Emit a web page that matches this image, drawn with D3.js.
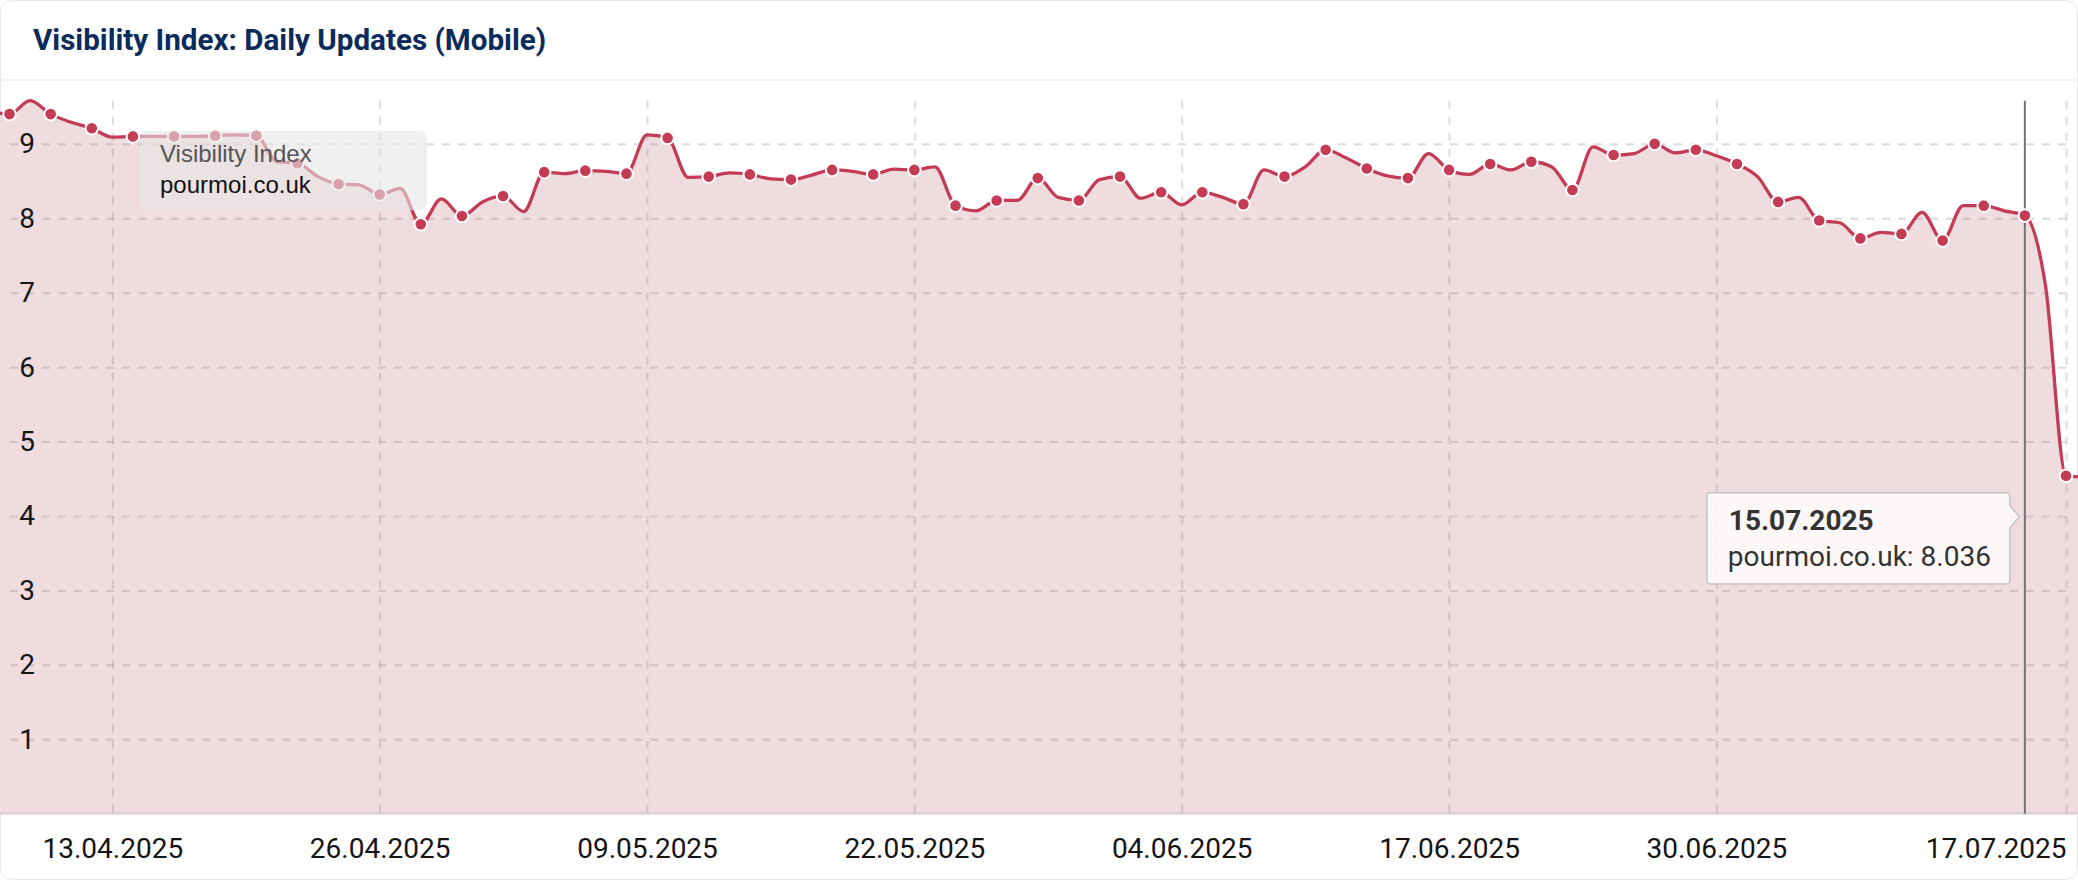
<!DOCTYPE html>
<html>
<head>
<meta charset="utf-8">
<script src="https://cdn.jsdelivr.net/npm/d3@7"></script>
<style>
  html, body { margin: 0; padding: 0; background: #ffffff; }
  svg { display: block; }
</style>
</head>
<body>
<svg id="chart" width="2078" height="880"></svg>
<script>
// ---------------- data ----------------
const chartTitle = "Visibility Index: Daily Updates (Mobile)";
const seriesName = "pourmoi.co.uk";
const legendTitle = "Visibility Index";
// first daily value belongs to 07.04.2025, one value per day up to 18.07.2025
const firstDay = "2025-04-07";
const visibility = [
  9.44, 9.40, 9.58, 9.40, 9.29, 9.21, 9.09, 9.10, 9.10, 9.10,
  9.10, 9.11, 9.12, 9.11, 8.76, 8.74, 8.56, 8.46, 8.45, 8.32,
  8.40, 7.92, 8.26, 8.03, 8.22, 8.30, 8.09, 8.62, 8.60, 8.64,
  8.63, 8.60, 9.12, 9.08, 8.55, 8.56, 8.61, 8.59, 8.53, 8.52,
  8.58, 8.65, 8.63, 8.59, 8.66, 8.65, 8.69, 8.17, 8.10, 8.24,
  8.24, 8.54, 8.28, 8.24, 8.52, 8.56, 8.27, 8.35, 8.18, 8.35,
  8.28, 8.19, 8.65, 8.56, 8.69, 8.92, 8.81, 8.67, 8.57, 8.54,
  8.87, 8.65, 8.59, 8.73, 8.65, 8.76, 8.69, 8.38, 8.96, 8.85,
  8.87, 9.00, 8.88, 8.92, 8.84, 8.73, 8.56, 8.22, 8.28, 7.97,
  7.94, 7.73, 7.81, 7.79, 8.08, 7.70, 8.17, 8.17, 8.10, 8.036,
  7.10, 4.54, 4.52
];
const xTickLabels = ["13.04.2025", "26.04.2025", "09.05.2025", "22.05.2025",
                     "04.06.2025", "17.06.2025", "30.06.2025", "17.07.2025"];
const yTickValues = [1, 2, 3, 4, 5, 6, 7, 8, 9];
const xDomainLabels = ["08.04.2025", "17.07.2025"];
const yMax = 9.58;
const markerEvery = 2;            // a marker on every second day
const hoverDate = "15.07.2025";

// ---------------- setup ----------------
const W = 2078, H = 880;
const parseDMY = d3.timeParse("%d.%m.%Y");
const fmtDMY = d3.timeFormat("%d.%m.%Y");
const start = d3.timeParse("%Y-%m-%d")(firstDay);
const data = visibility.map((v, i) => ({ date: d3.timeDay.offset(start, i), value: v }));

const plot = { left: 9.5, right: 2066, top: 100.7, bottom: 813.7 };

const x = d3.scaleTime()
  .domain(xDomainLabels.map(parseDMY))
  .range([plot.left, plot.right]);
const y = d3.scaleLinear()
  .domain([0, yMax])
  .range([plot.bottom, plot.top]);

const svg = d3.select("#chart");
const FONT = "Roboto, 'Noto Sans', sans-serif";

svg.append("defs").append("clipPath").attr("id", "cardClip")
  .append("rect").attr("x", 0).attr("y", 0).attr("width", W).attr("height", H).attr("rx", 12);

// card
svg.append("rect")
  .attr("x", 0.5).attr("y", 0.5).attr("width", W - 1).attr("height", H - 1)
  .attr("rx", 12).attr("fill", "#ffffff").attr("stroke", "#e9e9e9");

// header
svg.append("text")
  .attr("x", 33).attr("y", 49.5)
  .attr("font-family", FONT).attr("font-weight", 700).attr("font-size", 29.6)
  .attr("fill", "#0b2b5c")
  .text(chartTitle);
svg.append("line")
  .attr("x1", 0).attr("x2", W).attr("y1", 80).attr("y2", 80)
  .attr("stroke", "#f1f1f1").attr("stroke-width", 2);

const g = svg.append("g").attr("clip-path", "url(#cardClip)");

// area
const area = d3.area()
  .x(d => x(d.date)).y0(y(0)).y1(d => y(d.value))
  .curve(d3.curveMonotoneX);
g.append("path").datum(data)
  .attr("d", area).attr("fill", "#efdcdf");

// grid
const gridColor = "rgba(140,140,140,0.3)";
const yGrid = g.append("g")
  .attr("transform", `translate(${plot.left + 0.5},0)`)
  .call(d3.axisRight(y).tickValues(yTickValues).tickSize(plot.right - plot.left).tickFormat(""));
yGrid.select(".domain").remove();
yGrid.selectAll("line").attr("stroke", gridColor).attr("stroke-width", 2).attr("stroke-dasharray", "8,8");

const xTickDates = xTickLabels.map(parseDMY);
const xGrid = g.append("g")
  .attr("transform", `translate(0,${plot.top})`)
  .call(d3.axisBottom(x).tickValues(xTickDates).tickSize(plot.bottom - plot.top).tickFormat(""));
xGrid.select(".domain").remove();
xGrid.selectAll("line").attr("stroke", gridColor).attr("stroke-width", 2).attr("stroke-dasharray", "8,8");

// baseline
g.append("line")
  .attr("x1", 0).attr("x2", W).attr("y1", y(0)).attr("y2", y(0))
  .attr("stroke", "rgba(150,130,135,0.25)").attr("stroke-width", 2);

// hover line
const hoverD = parseDMY(hoverDate);
const hoverPoint = data.find(d => +d.date === +hoverD);
g.append("line")
  .attr("x1", x(hoverD)).attr("x2", x(hoverD))
  .attr("y1", plot.top).attr("y2", plot.bottom)
  .attr("stroke", "#757575").attr("stroke-width", 2);

// line
const line = d3.line()
  .x(d => x(d.date)).y(d => y(d.value))
  .curve(d3.curveMonotoneX);
g.append("path").datum(data)
  .attr("d", line).attr("fill", "none")
  .attr("stroke", "#c43b56").attr("stroke-width", 3.3);

// markers
const x0 = x.domain()[0], x1 = x.domain()[1];
const markers = data.filter(d => d.date >= x0 && d.date <= x1 &&
  d3.timeDay.count(x0, d.date) % markerEvery === 0);
g.selectAll("circle.pt").data(markers).join("circle")
  .attr("class", "pt")
  .attr("cx", d => x(d.date)).attr("cy", d => y(d.value))
  .attr("r", 6.3)
  .attr("fill", "#c43b56").attr("stroke", "#ffffff").attr("stroke-width", 2);

// y tick labels
const yAxis = svg.append("g")
  .attr("transform", "translate(35,0)")
  .call(d3.axisLeft(y).tickValues(yTickValues).tickSize(0).tickPadding(0).tickFormat(d3.format("d")));
yAxis.select(".domain").remove();
yAxis.selectAll("text")
  .attr("font-family", FONT).attr("font-size", 28).attr("fill", "#161616");

// x tick labels
const xAxis = svg.append("g")
  .attr("transform", `translate(0,${plot.bottom})`)
  .call(d3.axisBottom(x).tickValues(xTickDates).tickSize(0).tickPadding(0).tickFormat(fmtDMY));
xAxis.select(".domain").remove();
xAxis.selectAll("text")
  .attr("font-family", FONT).attr("font-size", 28).attr("fill", "#141414")
  .attr("dy", null).attr("y", 44.5)
  .attr("text-anchor", (d, i) => i === xTickDates.length - 1 ? "end" : "middle");

// legend box (top-left)
const lg = svg.append("g").attr("transform", "translate(140,130.7)");
lg.append("rect").attr("width", 287).attr("height", 79.5).attr("rx", 8)
  .attr("fill", "rgba(230,230,230,0.6)");
lg.append("text").attr("x", 20).attr("y", 31.6)
  .attr("font-family", "'Liberation Sans', Arial, sans-serif").attr("font-size", 24)
  .attr("fill", "#555").text(legendTitle);
lg.append("text").attr("x", 20).attr("y", 62.6)
  .attr("font-family", "'Liberation Sans', Arial, sans-serif").attr("font-size", 24)
  .attr("fill", "#111").text(seriesName);

// tooltip
const tipX = x(hoverD) - 5.5;   // arrow tip
const boxR = tipX - 9.5, boxL = boxR - 303, boxT = 492.7, boxB = 584, arrowY = 516.7, rr = 4;
const tipPath = d3.path();
tipPath.moveTo(boxL + rr, boxT);
tipPath.lineTo(boxR - rr, boxT);
tipPath.quadraticCurveTo(boxR, boxT, boxR, boxT + rr);
tipPath.lineTo(boxR, arrowY - 11);
tipPath.lineTo(tipX, arrowY);
tipPath.lineTo(boxR, arrowY + 11);
tipPath.lineTo(boxR, boxB - rr);
tipPath.quadraticCurveTo(boxR, boxB, boxR - rr, boxB);
tipPath.lineTo(boxL + rr, boxB);
tipPath.quadraticCurveTo(boxL, boxB, boxL, boxB - rr);
tipPath.lineTo(boxL, boxT + rr);
tipPath.quadraticCurveTo(boxL, boxT, boxL + rr, boxT);
tipPath.closePath();
svg.append("path").attr("d", tipPath.toString())
  .attr("fill", "rgba(253,251,251,0.9)").attr("stroke", "#c4c4c4").attr("stroke-width", 1.5);
svg.append("text").attr("x", boxL + 22).attr("y", 530)
  .attr("font-family", FONT).attr("font-weight", 700).attr("font-size", 28).attr("fill", "#333")
  .text(fmtDMY(hoverD));
svg.append("text").attr("x", boxL + 21).attr("y", 566)
  .attr("font-family", FONT).attr("font-size", 28).attr("fill", "#333")
  .text(`${seriesName}: ${d3.format(".3f")(hoverPoint.value)}`);
</script>
</body>
</html>
